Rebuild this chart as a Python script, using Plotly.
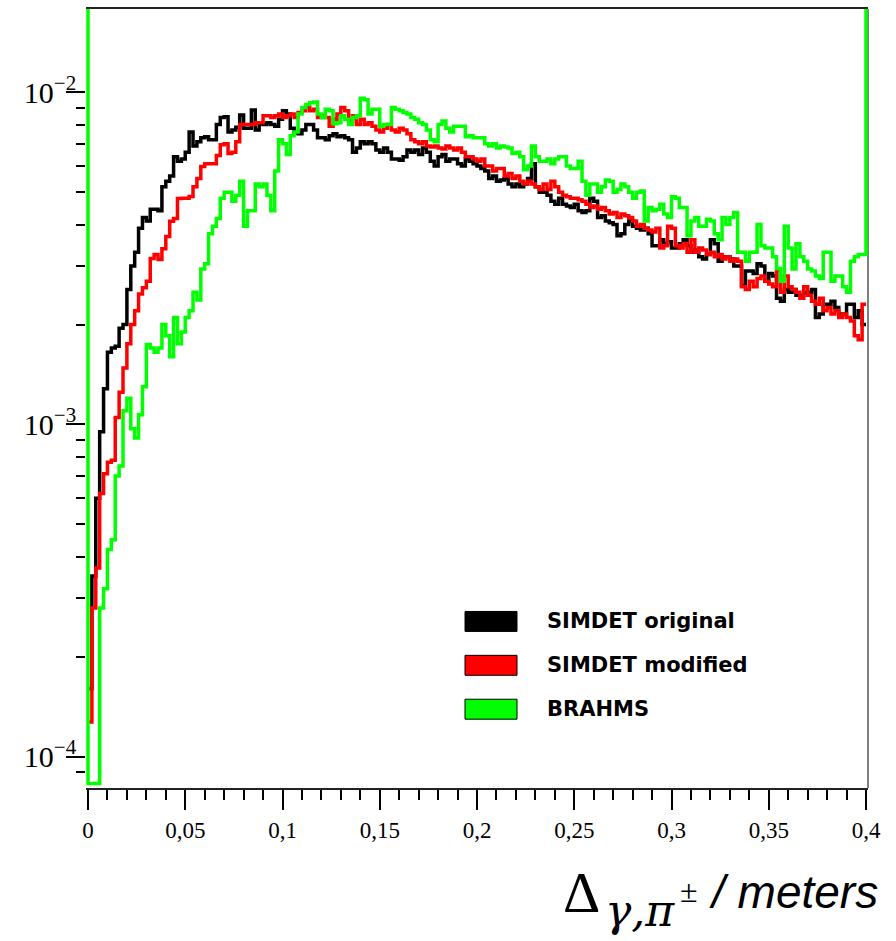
import numpy as np
import plotly.graph_objects as go

# ---- data (bin contents in units of 1e-3), 200 bins from 0 to 0.4 m ----
X_MIN, X_MAX, N_BINS = 0.0, 0.4, 200
UNIT = 1e-3

simdet_original = [
    0.16, 0.35, 0.60, 0.95, 1.28, 1.65, 1.70, 1.72, 1.95, 2.0,
    2.55, 3.0, 3.3, 3.9, 4.2, 4.1, 4.45, 4.45, 4.4, 5.2,
    5.4, 5.6, 6.4, 6.2, 6.3, 6.6, 7.6, 6.9, 7.1, 7.3,
    7.35, 7.2, 7.2, 8.0, 8.4, 8.45, 7.6, 7.7, 7.85, 8.55,
    7.8, 7.8, 8.85, 7.7, 8.05, 8.0, 8.1, 8.0, 7.9, 8.3,
    8.8, 8.6, 7.8, 7.6, 7.5, 7.7, 8.0, 8.0, 7.7, 7.3,
    7.3, 7.2, 7.4, 7.5, 7.35, 7.4, 7.3, 7.2, 6.6, 6.8,
    7.1, 7.0, 7.1, 7.0, 6.7, 6.6, 6.8, 6.6, 6.3, 6.3,
    6.25, 6.4, 6.7, 6.6, 6.7, 6.5, 6.8, 6.6, 6.2, 6.0,
    6.4, 6.5, 6.2, 6.3, 6.3, 6.1, 6.0, 6.3, 6.2, 6.1,
    6.0, 5.9, 5.8, 5.5, 5.6, 5.4, 5.45, 5.5, 5.3, 5.2,
    5.3, 5.2, 5.3, 5.5, 6.1, 5.2, 5.0, 5.0, 4.9, 4.7,
    4.6, 4.8, 4.6, 4.55, 4.5, 4.6, 4.4, 4.35, 4.4, 4.8,
    4.7, 4.2, 4.25, 4.1, 4.05, 4.0, 3.7, 3.75, 4.0, 4.1,
    3.95, 3.9, 3.85, 3.9, 3.75, 3.45, 3.45, 3.6, 3.5, 3.55,
    3.4, 3.4, 3.5, 3.6, 3.45, 3.3, 3.35, 3.2, 3.15, 3.25,
    3.6, 3.5, 3.1, 3.2, 3.2, 3.15, 3.0, 3.0, 2.62, 2.9,
    2.9, 2.85, 3.05, 3.0, 2.7, 2.85, 2.8, 2.4, 2.35, 2.55,
    2.5, 2.55, 2.45, 2.45, 2.5, 2.5, 2.55, 2.1, 2.15, 2.3,
    2.3, 2.35, 2.25, 2.15, 2.15, 2.3, 2.3, 2.1, 2.2, 2.0,
]

simdet_modified = [
    0.127, 0.28, 0.37, 0.62, 0.71, 0.77, 0.78, 1.05, 1.25, 1.48,
    1.75, 2.0, 2.2, 2.47, 2.58, 2.7, 3.16, 3.25, 3.14, 3.38,
    3.68, 4.09, 4.17, 4.79, 4.8, 4.8, 4.86, 5.2, 5.5, 5.98,
    6.1, 6.1, 6.1, 6.45, 6.96, 7.0, 6.54, 6.6, 7.1, 8.0,
    8.0, 8.0, 8.0, 8.1, 8.1, 8.5, 8.5, 8.4, 8.5, 8.6,
    8.4, 8.5, 8.6, 8.4, 8.7, 8.8, 9.0, 8.8, 8.9, 8.4,
    8.5, 8.4, 7.9, 8.3, 8.6, 9.0, 8.8, 8.2, 8.5, 8.0,
    8.3, 8.0, 8.1, 7.9, 7.7, 7.6, 7.8, 8.0, 7.7, 7.6,
    7.8, 7.7, 7.5, 7.2, 7.1, 7.0, 7.1, 6.9, 6.85, 6.9,
    6.8, 6.75, 6.9, 6.8, 6.7, 6.8, 6.6, 6.4, 6.4, 6.3,
    6.2, 6.3, 6.0, 6.0, 5.8, 5.9, 5.9, 5.6, 5.7, 5.5,
    5.6, 5.4, 5.3, 5.4, 5.3, 5.2, 5.1, 5.3, 5.1, 5.4,
    5.2, 5.0, 4.9, 4.85, 4.8, 4.8, 4.75, 4.7, 4.6, 4.5,
    4.55, 4.45, 4.5, 4.4, 4.3, 4.35, 4.2, 4.3, 4.25, 4.2,
    4.1, 3.95, 4.0, 3.9, 3.85, 3.8, 3.9, 3.4, 3.45, 3.95,
    3.9, 3.45, 3.4, 3.5, 3.3, 3.6, 3.3, 3.4, 3.35, 3.25,
    3.3, 3.2, 3.25, 3.15, 3.2, 3.1, 3.15, 3.1, 2.6, 2.55,
    2.7, 2.6, 2.75, 2.8, 2.7, 2.65, 2.6, 2.9, 2.5, 2.8,
    2.6, 2.55, 2.5, 2.4, 2.6, 2.45, 2.35, 2.3, 2.4, 2.2,
    2.25, 2.15, 2.2, 2.1, 2.15, 2.1, 2.05, 1.85, 1.8, 2.3,
]

brahms = [
    0.083, 0.083, 0.083, 0.28, 0.32, 0.42, 0.45, 0.70, 0.75, 1.1,
    1.2, 0.97, 0.91, 1.07, 1.3, 1.74, 1.7, 1.65, 1.7, 2.0,
    1.85, 1.6, 2.1, 1.75, 1.9, 2.1, 2.2, 2.5, 2.37, 2.94,
    3.05, 3.75, 3.95, 4.17, 4.8, 5.0, 5.0, 4.7, 4.9, 5.4,
    3.95, 4.4, 4.4, 5.3, 5.2, 5.3, 4.9, 4.4, 5.8, 7.2,
    7.0, 6.5, 7.4, 7.6, 8.6, 9.0, 9.2, 9.3, 9.35, 8.6,
    8.4, 8.9, 8.8, 8.05, 8.1, 8.5, 8.3, 8.0, 8.4, 8.5,
    9.6, 9.5, 8.6, 8.9, 8.9, 7.9, 8.0, 8.0, 9.0, 8.9,
    8.8, 8.7, 8.6, 8.4, 8.3, 8.1, 8.0, 7.7, 7.2, 7.1,
    8.0, 8.2, 7.8, 7.6, 7.9, 7.9, 7.9, 7.35, 7.4, 7.3,
    7.3, 7.3, 7.0, 6.9, 7.0, 6.8, 6.9, 6.85, 6.8, 6.55,
    6.6, 6.4, 5.85, 6.0, 6.9, 6.4, 6.2, 6.2, 6.3, 6.1,
    6.3, 6.4, 6.4, 6.0, 5.9, 5.9, 6.2, 5.4, 4.9, 5.3,
    5.3, 5.0, 5.2, 5.45, 5.4, 5.0, 5.1, 5.3, 5.2, 5.0,
    4.8, 5.0, 5.05, 4.1, 4.5, 4.4, 4.45, 4.6, 4.3, 4.2,
    4.85, 4.8, 4.5, 4.5, 3.7, 4.1, 4.2, 3.95, 3.95, 4.15,
    4.1, 3.75, 3.6, 4.2, 4.0, 4.2, 4.35, 3.3, 3.3, 3.1,
    3.3, 3.3, 4.0, 3.45, 3.4, 3.4, 3.2, 2.95, 2.7, 3.95,
    3.4, 2.94, 3.5, 3.2, 3.1, 2.94, 2.9, 2.8, 2.75, 3.3,
    3.3, 2.7, 2.8, 2.8, 2.6, 2.5, 3.1, 3.2, 3.25, 3.25,
]

legend_labels = ["SIMDET original", "SIMDET modified", "BRAHMS"]
colors = ["#000000", "#ff0000", "#00ff00"]

# ---- figure ----
edges = np.linspace(X_MIN, X_MAX, N_BINS + 1)
EDGE_TOP = 1.0  # value above the visible range (edge lines of the BRAHMS histogram)

def step_xy(vals, closed_top=False):
    y = [v * UNIT for v in vals]
    xs = list(edges[:-1]) + [edges[-1]]
    ys = y + [y[-1]]
    if closed_top:
        xs = [edges[0]] + xs + [edges[-1]]
        ys = [EDGE_TOP] + ys + [EDGE_TOP]
    return xs, ys

fig = go.Figure()
for vals, col, name, top in [
    (simdet_original, colors[0], legend_labels[0], False),
    (simdet_modified, colors[1], legend_labels[1], False),
    (brahms, colors[2], legend_labels[2], True),
]:
    xs, ys = step_xy(vals, top)
    fig.add_trace(go.Scatter(x=xs, y=ys, mode="lines", name=name,
                             line=dict(color=col, width=3.5, shape="hv"),
                             showlegend=False, hoverinfo="skip"))

W, H = 896, 941
L, R, T, B = 86, 28, 7, 153
px_per_unit = (866 - 88) / 0.4
x_lo = -(88 - L) / px_per_unit
x_hi = 0.4 + ((W - R) - 866) / px_per_unit

fig.update_layout(
    width=W, height=H,
    margin=dict(l=L, r=R, t=T, b=B),
    paper_bgcolor="white", plot_bgcolor="white",
    separators=",.",
    showlegend=False,
)
fig.update_xaxes(
    range=[x_lo, x_hi], tick0=0, dtick=0.05,
    ticks="outside", ticklen=20, tickwidth=1.5, tickcolor="black",
    showline=True, linecolor="#222222", linewidth=2, mirror=True,
    showgrid=False, zeroline=False,
    tickfont=dict(family="Liberation Serif", size=23, color="black"),
    minor=dict(tick0=0, dtick=0.01, ticks="outside", ticklen=10,
               tickwidth=1.5, tickcolor="black", showgrid=False),
)
fig.update_yaxes(
    type="log", range=[-4.0946, -1.749], dtick=1,
    exponentformat="power",
    ticks="outside", ticklen=19, tickwidth=1.5, tickcolor="black",
    ticklabelstandoff=-15,
    showline=False, showgrid=False, zeroline=False,
    tickfont=dict(family="Liberation Serif", size=24, color="black"),
    minor=dict(ticks="outside", ticklen=9, tickwidth=1.5,
               tickcolor="black", showgrid=False),
)

# right frame border
fig.add_shape(type="line", xref="paper", yref="paper", x0=1, x1=1, y0=0, y1=1,
              line=dict(color="black", width=1), layer="below")

# legend boxes and labels
plot_w, plot_h = W - L - R, H - T - B
def px_x(p): return (p - L) / plot_w
def px_y(p): return (H - B - p) / plot_h
box_rows = [(611, 631), (655, 675), (699, 719)]
for (y0, y1), col, lab in zip(box_rows, colors, legend_labels):
    fig.add_shape(type="rect", xref="paper", yref="paper",
                  x0=px_x(465), x1=px_x(517), y0=px_y(y1), y1=px_y(y0),
                  fillcolor=col, line=dict(color="black", width=1))
    fig.add_annotation(xref="paper", yref="paper", x=px_x(545), y=px_y((y0 + y1) / 2),
                       text=f"<b>{lab}</b>", showarrow=False, xanchor="left", yanchor="middle",
                       font=dict(family="DejaVu Sans", size=21, color="black"))

# axis title, built from pieces: Δ, subscript γ,π, superscript ±, "/ meters"
title_parts = [
    dict(text="Δ", x=602, y=893, xanchor="right",
         font=dict(family="Liberation Serif", size=58, color="black")),
    dict(text="<i>γ,π</i>", x=603, y=911, xanchor="left",
         font=dict(family="DejaVu Serif", size=44, color="black")),
    dict(text="±", x=678, y=891, xanchor="left",
         font=dict(family="Liberation Serif", size=32, color="black")),
    dict(text="<i>/ meters</i>", x=880, y=892, xanchor="right",
         font=dict(family="Liberation Sans", size=46, color="black")),
]
for p in title_parts:
    fig.add_annotation(xref="paper", yref="paper", x=px_x(p["x"]), y=px_y(p["y"]),
                       text=p["text"], showarrow=False, xanchor=p["xanchor"],
                       yanchor="middle", font=p["font"])

fig.write_html("out.html")
